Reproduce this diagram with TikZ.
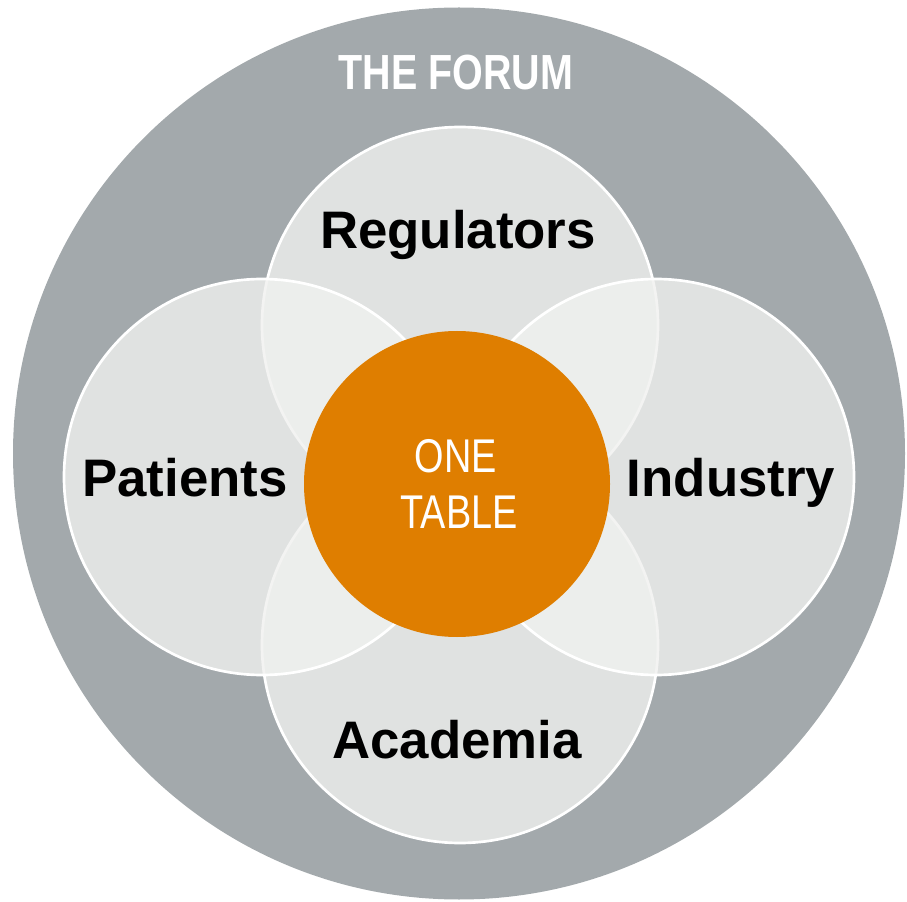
\documentclass[tikz,border=0pt]{standalone}
\usepackage{fontspec}
\setmainfont{Liberation Sans}
\newfontfamily\narrowfont[FakeStretch=0.8]{Liberation Sans}
\definecolor{forumgray}{HTML}{A3A9AC}
\definecolor{groupfill}{HTML}{F0F1EF}
\definecolor{tableorange}{HTML}{DF7E00}

\begin{document}
\begin{tikzpicture}[x=0.75pt,y=0.75pt,
	groupcircle/.style={fill=groupfill,fill opacity=0.8,draw=white,line width=2pt},
	grouptext/.style={anchor=base,font=\fontsize{39.6}{41}\selectfont\bfseries}]
\useasboundingbox (0,0) rectangle (907,901);
\fill[forumgray] (459,447.5) circle (446);
% the four groups
\draw[groupcircle] (460,576) circle (198);
\draw[groupcircle] (460,256) circle (198);
\draw[groupcircle] (262,424) circle (198);
\draw[groupcircle] (656,424) circle (198);
\fill[tableorange] (457,417) circle (153);

\node[anchor=base,text=white,font=\fontsize{37}{38}\selectfont\narrowfont\bfseries] (forum) at (456,811) {THE FORUM};
\node[grouptext] (reg) at (458,652) {Regulators};
\node[grouptext] (pat) at (185,404) {Patients};
\node[grouptext] (ind) at (731,404) {Industry};
\node[grouptext] (acad) at (457,143) {Academia};
\node[anchor=base,text=white,font=\fontsize{35.5}{37}\selectfont\narrowfont] (one) at (456,428) {ONE};
\node[anchor=base,text=white,font=\fontsize{35.5}{37}\selectfont\narrowfont] (table) at (459,373) {TABLE};
\end{tikzpicture}
\end{document}
